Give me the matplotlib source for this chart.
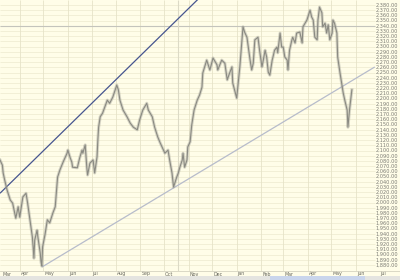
import matplotlib
matplotlib.use('Agg')
import matplotlib.pyplot as plt
import matplotlib.dates as mdates
import matplotlib.transforms as mtransforms
from matplotlib.patches import Rectangle
import pandas as pd

start = pd.Timestamp('2005-03-07')
day_offsets = [0, 3, 4, 6, 9, 13, 16, 20, 23, 25,
               29, 33, 35, 38, 41, 42, 43, 44, 47, 48,
               51, 52, 53, 54, 57, 60, 63, 67, 70, 72,
               73, 76, 80, 85, 86, 89, 91, 92, 98, 101,
               104, 105, 108, 110, 111, 114, 118, 120, 123, 124,
               125, 127, 130, 136, 139, 143, 148, 150, 152, 156,
               161, 165, 169, 174, 177, 181, 186, 188, 193, 196,
               200, 203, 209, 213, 215, 218, 220, 224, 226, 228,
               231, 232, 234, 237, 238, 241, 243, 246, 250, 253,
               256, 257, 262, 266, 270, 275, 276, 281, 285, 288,
               291, 294, 295, 300, 302, 304, 307, 308, 310, 313,
               314, 317, 319, 321, 323, 327, 329, 332, 333, 336,
               338, 340, 342, 345, 346, 348, 351, 352, 355, 357,
               359, 361, 364, 365, 367, 370, 371, 374, 376, 380,
               383, 384, 389, 393, 395, 397, 399, 402, 403, 405,
               408, 409, 412, 414, 416, 418, 421, 422, 424, 427,
               428, 431, 433, 435, 437, 440, 441, 443, 446]
closes = [2082, 2072, 2057, 2043, 2024, 2005, 1999, 1970, 1992, 1972,
          2011, 2018, 1999, 1967, 1934, 1915, 1893, 1928, 1947, 1934,
          1903, 1886, 1878, 1915, 1938, 1967, 1961, 1980, 1992, 2030,
          2049, 2063, 2078, 2095, 2101, 2086, 2078, 2068, 2067, 2086,
          2101, 2095, 2111, 2068, 2053, 2076, 2082, 2057, 2088, 2120,
          2145, 2165, 2172, 2197, 2191, 2203, 2226, 2217, 2197, 2178,
          2165, 2153, 2145, 2140, 2159, 2178, 2191, 2178, 2165, 2145,
          2126, 2115, 2095, 2101, 2082, 2057, 2030, 2049, 2057, 2068,
          2082, 2095, 2068, 2082, 2107, 2117, 2149, 2178, 2197, 2207,
          2222, 2249, 2274, 2255, 2278, 2265, 2255, 2274, 2268, 2236,
          2249, 2261, 2230, 2201, 2230, 2261, 2318, 2338, 2328, 2318,
          2307, 2274, 2255, 2268, 2313, 2318, 2293, 2261, 2268, 2293,
          2280, 2251, 2245, 2274, 2280, 2293, 2299, 2288, 2326, 2299,
          2299, 2280, 2274, 2255, 2293, 2313, 2318, 2307, 2326, 2328,
          2307, 2338, 2351, 2370, 2357, 2351, 2318, 2313, 2351, 2376,
          2365, 2338, 2345, 2326, 2342, 2313, 2326, 2351, 2345, 2326,
          2280, 2249, 2230, 2211, 2197, 2178, 2145, 2178, 2217]
price_ticks = list(range(1880, 2390, 10))
month_labels = ['Mar', 'Apr', 'May', 'Jun', 'Jul', 'Aug', 'Sep', 'Oct', 'Nov',
                'Dec', 'Jan', 'Feb', 'Mar', 'Apr', 'May', 'Jun', 'Jul']
month_starts = pd.date_range('2005-03-01', '2006-07-01', freq='MS')
upper_trend = [('2005-03-07', 2018), ('2005-11-12', 2389.6)]
lower_trend = [('2005-04-29', 1876), ('2006-06-06', 2243.5)]
crosshair_price = 2340
crosshair_date = '2005-10-18'

BG = '#fffde8'
W, H = 400, 280
fig = plt.figure(figsize=(W / 100, H / 100), dpi=100, facecolor=BG)
ax = fig.add_axes([0, 9 / H, 1, 271 / H])
ax.set_facecolor(BG)
for s in ax.spines.values():
    s.set_visible(False)
ax.set_xticks([])
ax.set_yticks([])

x0 = mdates.date2num(start)
x_right = x0 + 507
x_plot_end = x0 + 475
ax.set_xlim(x0, x_right)
ax.set_ylim(1868.5, 2389.6)

# grid
ax.hlines(price_ticks, x0, x_plot_end, color='#f0edd3', lw=0.6, zorder=1)
ms = mdates.date2num(month_starts)
ax.vlines(ms[(ms > x0) & (ms < x_plot_end)], 1868.5, 2389.6, color='#e6e3c8', lw=0.6, zorder=1)

# crosshair
ax.hlines(crosshair_price, x0, x_plot_end, color='#c4c4bc', lw=0.8, zorder=2)
ax.vlines(mdates.date2num(pd.Timestamp(crosshair_date)), 1868.5, 2389.6, color='#dcdac6', lw=0.8, zorder=2)

# trend lines
def trend(pts, color, lw):
    (d1, p1), (d2, p2) = pts
    a = mdates.date2num(pd.Timestamp(d1))
    b = mdates.date2num(pd.Timestamp(d2))
    slope = (p2 - p1) / (b - a)
    xe = x_plot_end
    ax.plot([a, xe], [p1, p1 + slope * (xe - a)], color=color, lw=lw, zorder=3,
            solid_capstyle='butt')

trend(upper_trend, '#46558f', 0.9)
trend(lower_trend, '#b7bccb', 0.9)

# price
dates = mdates.date2num(start + pd.to_timedelta(day_offsets, unit='D'))
ax.plot(dates, closes, color='#a4a49a', lw=2.2, alpha=0.45, zorder=4)
ax.plot(dates, closes, color='#8a8a82', lw=0.8, zorder=4)

# price labels
ytrans = mtransforms.blended_transform_factory(ax.transAxes, ax.transData)
for p in price_ticks:
    ax.text(376 / W, p, f'{p:,.2f}', transform=ytrans, ha='left', va='center',
            fontsize=3.6, color='#7a7a72', zorder=5)

# bottom strip
fig.add_artist(Rectangle((0, 0), 1, 4 / H, transform=fig.transFigure,
                         facecolor='#e4e4e0', edgecolor='none'))
fig.add_artist(Rectangle((270 / W, 0), 95 / W, 4 / H, transform=fig.transFigure,
                         facecolor='#c9d5ec', edgecolor='none'))
fig.add_artist(plt.Line2D([0, 1], [9 / H, 9 / H], transform=fig.transFigure,
                          color='#d4d2c0', lw=0.6))
xtrans = mtransforms.blended_transform_factory(ax.transData, fig.transFigure)
for lab, m in zip(month_labels, ms):
    xp = max(m, x0 + 2.5)
    ax.text(xp + 1.3, 6 / H, lab, transform=xtrans, ha='left', va='center',
            fontsize=3.4, color='#66665e', clip_on=False)

fig.savefig('out.png', dpi=100, facecolor=BG)
